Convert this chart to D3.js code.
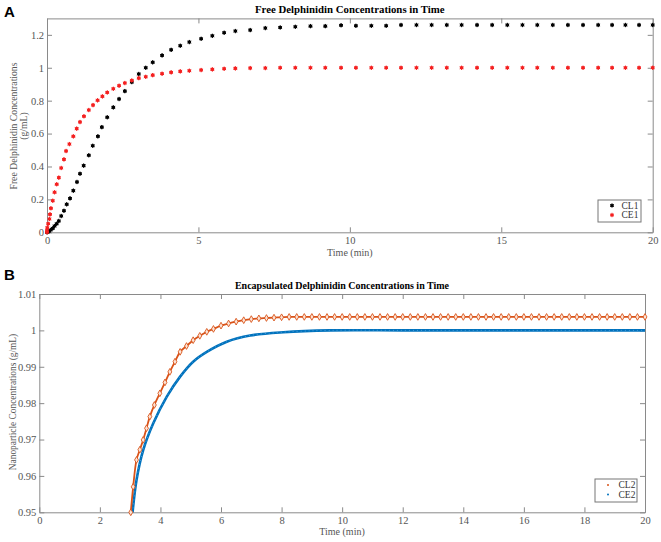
<!DOCTYPE html>
<html>
<head>
<meta charset="utf-8">
<script src="https://cdn.jsdelivr.net/npm/d3@7"></script>
<style>
  body { margin: 0; background: #fff; }
  svg { display: block; font-family: "Liberation Serif", "Times New Roman", serif; }
</style>
</head>
<body>
<svg id="chart" width="661" height="542"></svg>
<script>
// panel A: free delphinidin
const cl1Time = [0, 0.02, 0.06, 0.12, 0.19, 0.25, 0.32, 0.39, 0.47, 0.56, 0.65, 0.76, 0.87, 0.99, 1.09, 1.21, 1.38, 1.51, 1.68, 1.81, 1.99, 2.19, 2.38, 2.57, 2.80, 3.03, 3.26, 3.49, 3.80, 4.10, 4.40, 4.70, 5.09, 5.46, 5.85, 6.22, 6.71, 7.21, 7.70, 8.20, 8.70, 9.19, 9.71, 10.20, 10.71, 11.20, 11.69, 12.20, 12.70, 13.20, 13.69, 14.20, 14.70, 15.20, 15.70, 16.19, 16.70, 17.20, 17.70, 18.20, 18.66, 19.10, 19.55, 20.0]
const cl1Value = [0, 0.002, 0.006, 0.014, 0.024, 0.038, 0.052, 0.069, 0.099, 0.131, 0.170, 0.206, 0.253, 0.306, 0.356, 0.405, 0.468, 0.526, 0.583, 0.639, 0.699, 0.759, 0.810, 0.858, 0.913, 0.962, 1.000, 1.033, 1.075, 1.109, 1.134, 1.156, 1.176, 1.194, 1.213, 1.223, 1.229, 1.241, 1.245, 1.249, 1.253, 1.253, 1.258, 1.255, 1.255, 1.255, 1.260, 1.260, 1.260, 1.260, 1.260, 1.260, 1.260, 1.260, 1.260, 1.260, 1.260, 1.260, 1.260, 1.260, 1.260, 1.260, 1.260, 1.260]
const ce1Time = [0, 0, 0.01, 0.04, 0.08, 0.10, 0.13, 0.19, 0.25, 0.32, 0.39, 0.47, 0.56, 0.63, 0.74, 0.87, 0.98, 1.09, 1.22, 1.38, 1.52, 1.67, 1.83, 1.99, 2.19, 2.38, 2.57, 2.80, 3.03, 3.26, 3.49, 3.80, 4.10, 4.40, 4.70, 5.09, 5.46, 5.85, 6.22, 6.71, 7.21, 7.70, 8.20, 8.70, 9.19, 9.71, 10.20, 10.71, 11.20, 11.69, 12.20, 12.70, 13.20, 13.69, 14.20, 14.70, 15.20, 15.70, 16.19, 16.70, 17.20, 17.70, 18.20, 18.66, 19.10, 19.55, 20.0]
const ce1Value = [0, 0.010, 0.028, 0.052, 0.081, 0.109, 0.146, 0.192, 0.243, 0.292, 0.332, 0.391, 0.443, 0.494, 0.536, 0.583, 0.630, 0.670, 0.705, 0.743, 0.773, 0.802, 0.826, 0.850, 0.872, 0.891, 0.907, 0.923, 0.937, 0.945, 0.955, 0.964, 0.972, 0.978, 0.982, 0.986, 0.990, 0.994, 0.996, 0.998, 0.998, 1.0, 1.0, 1.0, 1.0, 1.0, 1.0, 1.0, 1.0, 1.0, 1.0, 1.0, 1.0, 1.0, 1.0, 1.0, 1.0, 1.0, 1.0, 1.0, 1.0, 1.0, 1.0, 1.0, 1.0, 1.0, 1.0]

// panel B: encapsulated delphinidin
const cl2Time = [3.02, 3.10, 3.21, 3.32, 3.43, 3.54, 3.65, 3.80, 3.98, 4.15, 4.31, 4.48, 4.65, 4.86, 5.08, 5.30, 5.53, 5.75, 6.0, 6.25, 6.5, 6.75, 7.0, 7.25, 7.5, 7.75, 8.0, 8.25, 8.5, 8.75, 9.0, 9.25, 9.5, 9.75, 10.0, 10.25, 10.5, 10.75, 11.0, 11.25, 11.5, 11.75, 12.0, 12.25, 12.5, 12.75, 13.0, 13.25, 13.5, 13.75, 14.0, 14.25, 14.5, 14.75, 15.0, 15.25, 15.5, 15.75, 16.0, 16.25, 16.5, 16.75, 17.0, 17.25, 17.5, 17.75, 18.0, 18.25, 18.5, 18.75, 19.0, 19.25, 19.5, 19.75, 20.0]
const cl2Value = [0.950, 0.957, 0.9644, 0.9672, 0.9699, 0.9731, 0.9763, 0.9795, 0.9827, 0.9857, 0.9886, 0.9914, 0.9941, 0.9957, 0.9973, 0.9985, 0.9996, 1.0004, 1.0013, 1.0019, 1.0024, 1.0028, 1.0031, 1.0033, 1.0034, 1.0035, 1.0036, 1.0037, 1.0037, 1.0037, 1.0037, 1.0037, 1.0037, 1.0037, 1.0037, 1.0037, 1.0037, 1.0037, 1.0037, 1.0037, 1.0037, 1.0037, 1.0037, 1.0037, 1.0037, 1.0037, 1.0037, 1.0037, 1.0037, 1.0037, 1.0037, 1.0037, 1.0037, 1.0037, 1.0037, 1.0037, 1.0037, 1.0037, 1.0037, 1.0037, 1.0037, 1.0037, 1.0037, 1.0037, 1.0037, 1.0037, 1.0037, 1.0037, 1.0037, 1.0037, 1.0037, 1.0037, 1.0037, 1.0037, 1.0037]
const ce2Time = [3.08, 3.21, 3.43, 3.76, 4.21, 4.65, 5.08, 5.53, 6.19, 6.96, 8.06, 9.6, 12, 14, 16, 18, 20]
const ce2Value = [0.950, 0.9589, 0.9671, 0.9744, 0.9818, 0.9873, 0.9914, 0.9941, 0.9969, 0.9986, 0.9995, 1.0, 1.0, 1.0, 1.0, 1.0, 1.0]

const xTicksA = [0, 5, 10, 15, 20]
const yTicksA = [0, 0.2, 0.4, 0.6, 0.8, 1, 1.2]
const xTicksB = [0, 2, 4, 6, 8, 10, 12, 14, 16, 18, 20]
const yTicksB = [0.95, 0.96, 0.97, 0.98, 0.99, 1, 1.01]

const svg = d3.select("#chart")
const axisColor = "#8a8a8a"
const labelColor = "#555"
const serif = "Liberation Serif, Times New Roman, serif"

function zip(t, v){ return t.map((d, i) => ({t: d, v: v[i]})) }

function frame(opts){
  const {x, y, xTicks, yTicks, xFmt, yFmt} = opts
  const [x0, x1] = x.range()
  const [y0, y1] = y.range()
  const g = svg.append("g")
  const style = s => s
    .attr("font-family", serif).attr("font-size", 10.5)
    .call(s => s.select(".domain").attr("stroke", axisColor))
    .call(s => s.selectAll(".tick line").attr("stroke", axisColor))
    .call(s => s.selectAll("text").attr("fill", labelColor))
  g.append("g").attr("transform", `translate(0,${y0})`)
    .call(d3.axisBottom(x).tickValues(xTicks).tickFormat(xFmt).tickSizeInner(-5).tickSizeOuter(0).tickPadding(4))
    .call(style)
  g.append("g").attr("transform", `translate(0,${y1})`)
    .call(d3.axisTop(x).tickValues(xTicks).tickFormat("").tickSizeInner(-5).tickSizeOuter(0))
    .call(style)
  g.append("g").attr("transform", `translate(${x0},0)`)
    .call(d3.axisLeft(y).tickValues(yTicks).tickFormat(yFmt).tickSizeInner(-5).tickSizeOuter(0).tickPadding(3))
    .call(style)
  g.append("g").attr("transform", `translate(${x1},0)`)
    .call(d3.axisRight(y).tickValues(yTicks).tickFormat("").tickSizeInner(-5).tickSizeOuter(0))
    .call(style)
  return g
}

// ---------- panel A ----------
const xA = d3.scaleLinear().domain([0, 20]).range([47, 652.7])
const yA = d3.scaleLinear().domain([0, 1.3]).range([232.3, 18.4])
frame({x: xA, y: yA, xTicks: xTicksA, yTicks: yTicksA, xFmt: d3.format("d"), yFmt: d => d === 0 ? "0" : d3.format("~g")(d)})

const star = d3.symbol().type(d3.symbolAsterisk).size(13)
const seriesA = [
  {name: "CL1", color: "#000000", data: zip(cl1Time, cl1Value)},
  {name: "CE1", color: "#f42020", data: zip(ce1Time, ce1Value)}
]
seriesA.forEach(s => {
  const g = svg.append("g")
  g.selectAll("circle").data(s.data).join("circle")
    .attr("cx", d => xA(d.t)).attr("cy", d => yA(d.v)).attr("r", 1.8)
    .attr("fill", s.color)
  g.selectAll("path").data(s.data).join("path")
    .attr("transform", d => `translate(${xA(d.t)},${yA(d.v)})`)
    .attr("d", star).attr("fill", "none").attr("stroke", s.color).attr("stroke-width", 1)
})

svg.append("text").attr("x", 349.8).attr("y", 13)
  .attr("text-anchor", "middle").attr("font-weight", "bold").attr("font-size", 10.8)
  .text("Free Delphinidin Concentrations in Time")
svg.append("text").attr("x", 349.8).attr("y", 256)
  .attr("text-anchor", "middle").attr("fill", labelColor).attr("font-size", 10)
  .text("Time (min)")
const yLabA = svg.append("text").attr("transform", "translate(17,126) rotate(-90)")
  .attr("text-anchor", "middle").attr("fill", labelColor).attr("font-size", 9.7)
yLabA.append("tspan").attr("x", 0).attr("dy", 0).text("Free Delphinidin Concentrations")
yLabA.append("tspan").attr("x", 0).attr("dy", 10).text("(g/mL)")
svg.append("text").attr("x", 4).attr("y", 17)
  .style("font-family", "Liberation Sans, Arial, sans-serif").attr("font-weight", "bold").attr("font-size", 15)
  .text("A")

// legend A
const legA = svg.append("g").attr("transform", "translate(598,200)")
legA.append("rect").attr("width", 43).attr("height", 22).attr("fill", "#fff").attr("stroke", "#777")
seriesA.forEach((s, i) => {
  const yy = 5.5 + i * 9.5
  legA.append("circle").attr("cx", 14).attr("cy", yy).attr("r", 1.6).attr("fill", s.color)
  legA.append("path").attr("transform", `translate(14,${yy})`).attr("d", star)
    .attr("fill", "none").attr("stroke", s.color).attr("stroke-width", 1)
  legA.append("text").attr("x", 23.5).attr("y", yy + 3.3).attr("font-size", 9.5).attr("fill", "#333").text(s.name)
})

// ---------- panel B ----------
const xB = d3.scaleLinear().domain([0, 20]).range([39.3, 645])
const yB = d3.scaleLinear().domain([0.95, 1.01]).range([512.3, 294])
frame({x: xB, y: yB, xTicks: xTicksB, yTicks: yTicksB, xFmt: d3.format("d"), yFmt: d => d === 1 ? "1" : d3.format(".2f")(d)})

const smooth = d3.line().x(d => xB(d.t)).y(d => yB(d.v)).curve(d3.curveCatmullRom.alpha(0.5))
const cl2 = zip(cl2Time, cl2Value)
const ce2 = zip(ce2Time, ce2Value)

svg.append("path").datum(ce2).attr("d", smooth)
  .attr("fill", "none").attr("stroke", "#0072BD").attr("stroke-width", 2.6)
svg.append("path").datum(ce2).attr("d", smooth)
  .attr("fill", "none").attr("stroke", "#5aa6de").attr("stroke-width", 0.8).attr("stroke-dasharray", "1,3")

svg.append("path").datum(cl2).attr("d", smooth)
  .attr("fill", "none").attr("stroke", "#D95319").attr("stroke-width", 1.8)
svg.append("g").selectAll("path").data(cl2).join("path")
  .attr("transform", d => `translate(${xB(d.t)},${yB(d.v)})`)
  .attr("d", d3.symbol().type(d3.symbolDiamond).size(13))
  .attr("fill", "#fbe3d6").attr("stroke", "#D95319").attr("stroke-width", 0.9)

svg.append("text").attr("x", 342).attr("y", 289)
  .attr("text-anchor", "middle").attr("font-weight", "bold").attr("font-size", 10)
  .text("Encapsulated Delphinidin Concentrations in Time")
svg.append("text").attr("x", 342).attr("y", 535)
  .attr("text-anchor", "middle").attr("fill", labelColor).attr("font-size", 10)
  .text("Time (min)")
svg.append("text").attr("transform", "translate(15.5,402) rotate(-90)")
  .attr("text-anchor", "middle").attr("fill", labelColor).attr("font-size", 9.4)
  .text("Nanoparticle Concentrations (g/mL)")
svg.append("text").attr("x", 4).attr("y", 280)
  .style("font-family", "Liberation Sans, Arial, sans-serif").attr("font-weight", "bold").attr("font-size", 15)
  .text("B")

// legend B
const seriesB = [{name: "CL2", color: "#D95319"}, {name: "CE2", color: "#0072BD"}]
const legB = svg.append("g").attr("transform", "translate(595,479)")
legB.append("rect").attr("width", 42).attr("height", 23).attr("fill", "#fff").attr("stroke", "#777")
seriesB.forEach((s, i) => {
  const yy = 6 + i * 9.5
  legB.append("circle").attr("cx", 13).attr("cy", yy).attr("r", 1).attr("fill", s.color)
  legB.append("text").attr("x", 23.5).attr("y", yy + 3.3).attr("font-size", 9.5).attr("fill", "#333").text(s.name)
})
</script>
</body>
</html>
